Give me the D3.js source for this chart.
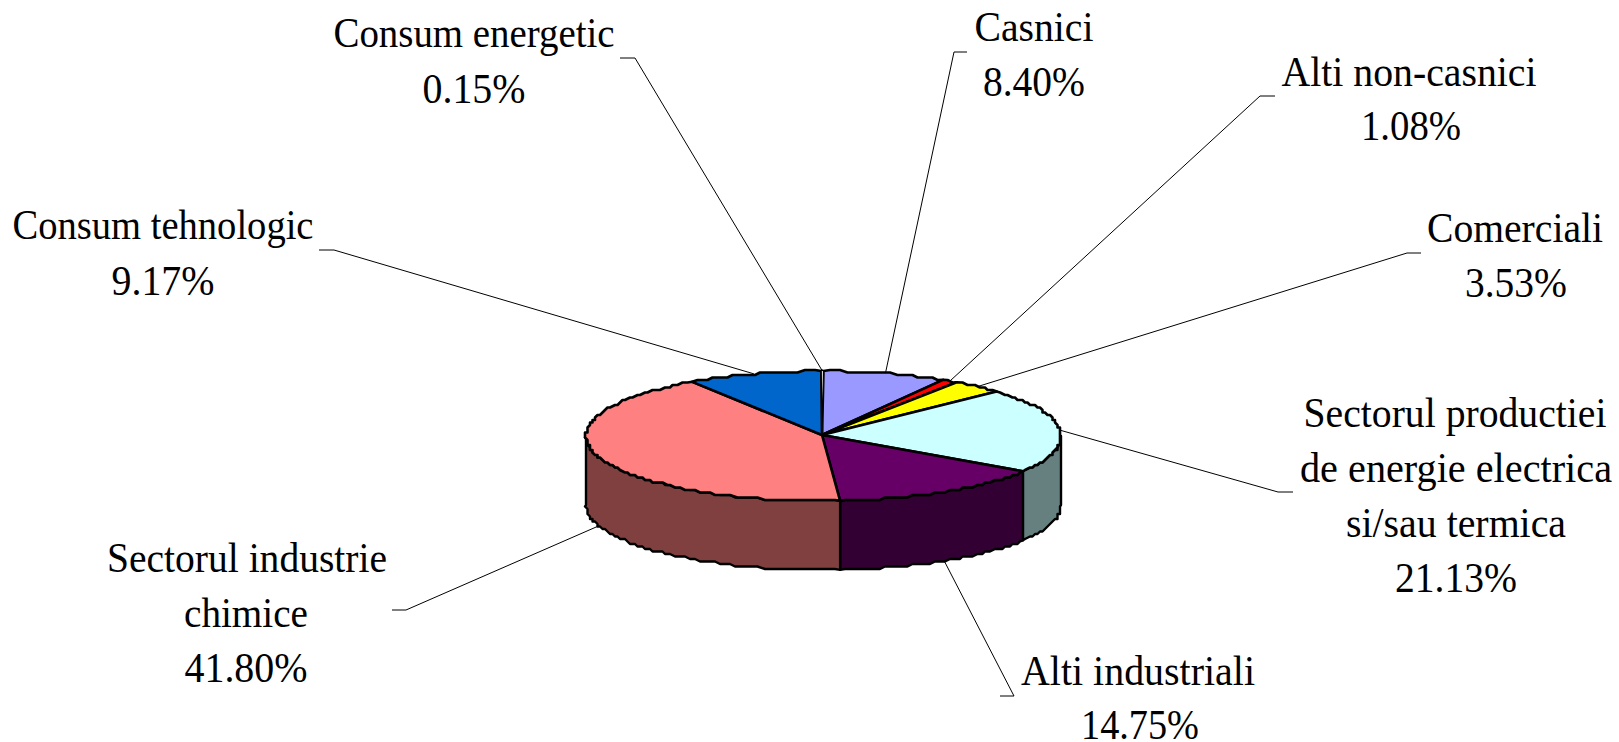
<!DOCTYPE html>
<html><head><meta charset="utf-8">
<script src="https://cdn.jsdelivr.net/npm/d3@7"></script>
<style>html,body{margin:0;padding:0;background:#fff;overflow:hidden}</style>
</head><body><svg id="c" width="1619" height="742"></svg>
<script>
const categories=["Casnici","Alti non-casnici","Comerciali","Sectorul productiei de energie electrica si/sau termica","Alti industriali","Sectorul industrie chimice","Consum tehnologic","Consum energetic"];
const values=[8.40,1.08,3.53,21.13,14.75,41.80,9.17,0.15];
const topColors=["#9999FF","#FF0000","#FFFF00","#CCFFFF","#660066","#FF8080","#0066CC","#FFFFFF"];
const sideColors=["#666699","#800000","#808000","#668080","#330033","#804040","#003366","#808080"];
const labelLines=[["Casnici"],["Alti non-casnici"],["Comerciali"],["Sectorul productiei","de energie electrica","si/sau termica"],["Alti industriali"],["Sectorul industrie","chimice"],["Consum tehnologic"],["Consum energetic"]];
// layout: per text line [centre x, baseline, width]
const cx=823.5,cy=436,apexX=822,apexY=435,rx=237.5,ry=65,depth=69,fs=42,snap=2.5;
const labelLayout=[
 [[1034,41,119],[1034,96,102]],
 [[1409,86,255],[1411,140,100]],
 [[1515,242,176],[1516,297,102]],
 [[1455,427,303],[1456,482,312],[1456,537,220],[1456,592,122]],
 [[1138,685,234],[1140,739,118]],
 [[247,572,280],[246,627,124],[246,682,123]],
 [[163,239,301],[163,295,103]],
 [[474,47,281],[474,103,103]]];
const elbows=[[[967,52],[954,52]],[[1275,96],[1260,96]],[[1421,253],[1407,253]],[[1293,492],[1278,492]],[[1000,696],[1014,696]],[[392,610],[406,610]],[[319,250],[334,250]],[[620,58],[635,58]]];

const svg=d3.select("#c");
const pie=d3.pie().value(d=>d).sort(null)(values);
const x=d3.scaleLinear().domain([-1,1]).range([cx-rx,cx+rx]);
const y=d3.scaleLinear().domain([-1,1]).range([cy-ry,cy+ry]);
const px=t=>[x(Math.sin(t)),y(-Math.cos(t))];
const sn=v=>Math.round(v/snap)*snap;
const line=d3.line();
const arcPts=(a,b)=>{const n=Math.max(2,Math.ceil((b-a)/0.025));return d3.range(n+1).map(i=>{const p=px(a+(b-a)*i/n);return (i==0||i==n)?p:[sn(p[0]),sn(p[1])];});};
const wall=svg.append("g"),top_=svg.append("g"),lead=svg.append("g"),text=svg.append("g");
pie.forEach((d,i)=>{
  const a=Math.max(d.startAngle,Math.PI/2),b=Math.min(d.endAngle,3*Math.PI/2);
  if(a<b){
    const up=arcPts(a,b),dn=up.map(p=>[p[0],p[1]+depth]).reverse();
    wall.append("path").attr("d",line(up.concat(dn))+"Z").attr("fill",sideColors[i]).attr("stroke","#000").attr("stroke-width",2.4).attr("stroke-linejoin","round");
  }
  top_.append("path").attr("d",line([[apexX,apexY]].concat(arcPts(d.startAngle,d.endAngle)))+"Z").attr("fill",topColors[i]).attr("stroke","#000").attr("stroke-width",values[i]<1?1.2:2.6).attr("stroke-linejoin","round");
  const m=(d.startAngle+d.endAngle)/2,p=px(m);
  if(Math.cos(m)<0)p[1]+=depth;
  lead.append("path").attr("d",line([elbows[i][0],elbows[i][1],p])).attr("fill","none").attr("stroke","#000").attr("stroke-width",1);
  const ls=labelLines[i].concat([values[i].toFixed(2)+"%"]);
  ls.forEach((t,j)=>{const L=labelLayout[i][j];text.append("text").attr("x",L[0]).attr("y",L[1]).attr("text-anchor","middle").attr("font-family","Liberation Serif").attr("font-size",fs).attr("fill","#000").attr("textLength",L[2]).attr("lengthAdjust","spacingAndGlyphs").text(t);});
});
</script></body></html>
